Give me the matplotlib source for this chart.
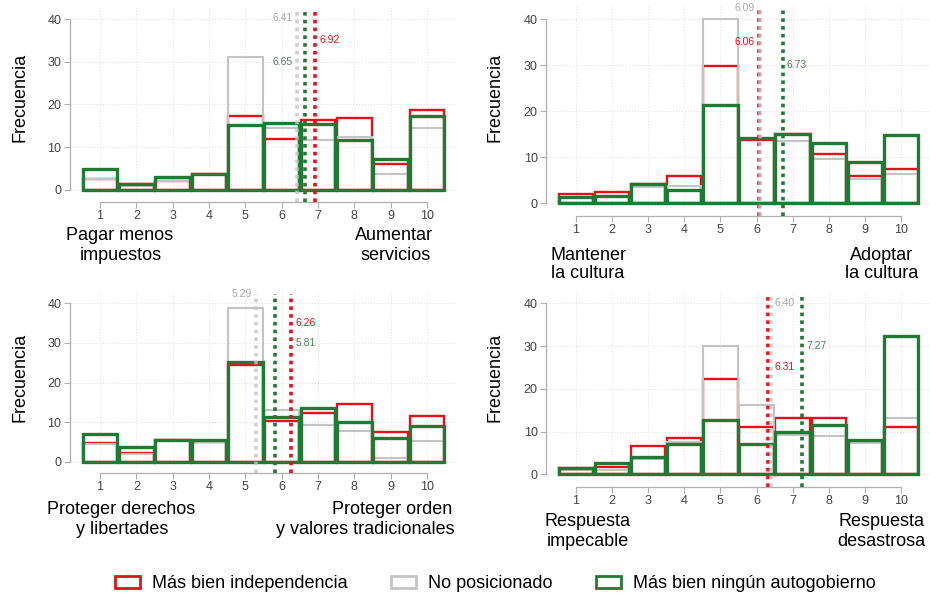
import matplotlib.pyplot as plt
import numpy as np
from matplotlib.patches import Patch

plt.rcParams['font.family'] = ['Liberation Sans', 'DejaVu Sans']

# escala 1-10
puntos = np.arange(1, 11)

# Pagar menos impuestos / Aumentar servicios
indep_imp = [2.5, 1.5, 2.0, 3.7, 17.2, 12.0, 16.3, 16.8, 6.0, 18.8]
nopos_imp = [2.5, 1.0, 2.0, 3.7, 31.2, 14.5, 11.6, 12.3, 3.8, 14.5]
ningun_imp = [5.0, 1.5, 3.1, 3.7, 15.2, 15.7, 15.5, 11.8, 7.3, 17.4]
medias_imp = [6.92, 6.41, 6.65]

# Mantener / Adoptar la cultura
indep_cul = [2.0, 2.4, 4.1, 5.9, 29.7, 13.8, 14.9, 10.7, 5.9, 7.4]
nopos_cul = [1.0, 1.5, 3.5, 3.8, 40.0, 14.0, 13.5, 9.6, 5.3, 6.2]
ningun_cul = [1.4, 1.6, 4.1, 2.8, 21.3, 14.2, 14.9, 13.1, 8.9, 14.8]
medias_cul = [6.06, 6.09, 6.73]

# Proteger derechos / orden
indep_der = [4.6, 2.1, 5.4, 4.9, 24.3, 10.2, 12.3, 14.5, 7.4, 11.5]
nopos_der = [4.5, 2.0, 5.4, 5.0, 38.7, 13.0, 9.3, 7.8, 1.0, 5.2]
ningun_der = [7.0, 3.8, 5.4, 5.6, 25.3, 11.3, 13.6, 9.9, 5.9, 8.9]
medias_der = [6.26, 5.29, 5.81]

# Respuesta impecable / desastrosa
indep_res = [1.4, 1.6, 6.7, 8.5, 22.3, 11.1, 13.2, 13.2, 7.5, 11.1]
nopos_res = [1.0, 1.0, 3.5, 7.5, 29.9, 16.1, 9.2, 9.0, 7.4, 13.2]
ningun_res = [1.4, 2.6, 4.0, 7.2, 12.7, 7.0, 10.0, 11.5, 8.0, 32.4]
medias_res = [6.31, 6.40, 7.27]

etiquetas_izq = [["Pagar menos", "impuestos"], ["Mantener", "la cultura"],
                 ["Proteger derechos", "y libertades"], ["Respuesta", "impecable"]]
etiquetas_der = [["Aumentar", "servicios"], ["Adoptar", "la cultura"],
                 ["Proteger orden", "y valores tradicionales"], ["Respuesta", "desastrosa"]]

grupos = ["Más bien independencia", "No posicionado", "Más bien ningún autogobierno"]
colores = ["#e3111b", "#c4c4c4", "#1f7a33"]
col_texto = ["#e3111b", "#a8a8a8", "#4f7f57"]
grosor = [1.7, 1.5, 2.4]

datos = [
    (indep_imp, nopos_imp, ningun_imp, medias_imp),
    (indep_cul, nopos_cul, ningun_cul, medias_cul),
    (indep_der, nopos_der, ningun_der, medias_der),
    (indep_res, nopos_res, ningun_res, medias_res),
]

W, H = 930, 597
# x1 px, px por unidad x, y0 px, px por unidad y, nivel eje x
layout = [
    (100, 36.33, 190.0, 4.275, -2.7),
    (576, 36.10, 203.0, 4.60, -2.8),
    (100, 36.33, 461.7, 3.96, -2.8),
    (576, 36.10, 474.3, 4.275, -2.9),
]
# etiquetas de medias: (grupo, y, lado, grupo de referencia)
etiq_medias = [
    [(1, 40.3, 'l', 1), (2, 30, 'l', 1), (0, 35, 'r', 0)],
    [(1, 42.4, 'l', 0), (0, 35, 'l', 0), (2, 30, 'r', 2)],
    [(1, 42.4, 'l', 1), (0, 35, 'r', 0), (2, 30, 'r', 0)],
    [(1, 40, 'r', 1), (0, 25, 'r', 1), (2, 30, 'r', 2)],
]
# posiciones en px de las etiquetas inferiores
pos_izq = [[(120, 235), (121, 255)], [(588, 255), (588, 273)],
           [(121, 510), (122, 530)], [(588, 522), (588, 541)]]
pos_der = [[(394, 235), (396, 255)], [(882, 255), (882, 273)],
           [(392, 510), (365, 530)], [(881, 522), (881, 541)]]
pos_frec = [(20, 97), (495, 97), (20, 377), (495, 377)]

xlim = (-0.4, 11.2)
ylim = (-6, 44)

fig = plt.figure(figsize=(W / 100, H / 100), dpi=100)

for i, (series_p, lay) in enumerate(zip(datos, layout)):
    x1, ux, y0, uy, ejex = lay
    left = x1 + (xlim[0] - 1) * ux
    right = x1 + (xlim[1] - 1) * ux
    top = y0 - ylim[1] * uy
    bot = y0 - ylim[0] * uy
    ax = fig.add_axes([left / W, 1 - bot / H, (right - left) / W, (bot - top) / H])
    ax.set_xlim(*xlim)
    ax.set_ylim(*ylim)
    ax.patch.set_visible(False)

    # rejilla punteada
    ax.hlines([0, 10, 20, 30, 40], 0.17, 10.77, colors="#e0e0e0", linestyles=":", lw=0.8, zorder=0)
    ax.vlines(puntos, -1.6, 43, colors="#e6e6e6", linestyles=":", lw=0.8, zorder=0)

    valores = series_p[:3]
    medias = series_p[3]
    # gris primero, luego rojo, verde encima
    for g in [1, 0, 2]:
        ax.bar(puntos, valores[g], width=0.95, fill=False, edgecolor=colores[g],
               linewidth=grosor[g], zorder=2 + g)

    for g, alfa in [(0, 1.0), (1, 0.8), (2, 1.0)]:
        ax.plot([medias[g], medias[g]], [ejex, 42.3], color=colores[g], lw=2.6,
                linestyle=(0, (1, 1.15)), alpha=alfa, zorder=6)

    for g, yy, lado, ref in etiq_medias[i]:
        off = 4 / ux
        if lado == 'l':
            ax.text(medias[ref] - off, yy, f"{medias[g]:.2f}", ha='right', va='center',
                    fontsize=7.5, color=col_texto[g], zorder=7)
        else:
            ax.text(medias[ref] + off, yy, f"{medias[g]:.2f}", ha='left', va='center',
                    fontsize=7.5, color=col_texto[g], zorder=7)

    for s in ['top', 'right']:
        ax.spines[s].set_visible(False)
    ax.spines['left'].set_position(('data', 0.17))
    ax.spines['left'].set_bounds(0, 40)
    ax.spines['bottom'].set_position(('data', ejex))
    ax.spines['bottom'].set_bounds(1, 10)
    for s in ['left', 'bottom']:
        ax.spines[s].set_color("#b0b0b0")
        ax.spines[s].set_linewidth(0.9)
    ax.set_yticks([0, 10, 20, 30, 40])
    ax.set_xticks(puntos)
    ax.tick_params(color="#b0b0b0", labelcolor="#444444", labelsize=9, length=4, width=0.8, pad=2)

    fx, fy = pos_frec[i]
    fig.text(fx / W, 1 - fy / H, "Frecuencia", rotation=90, ha='center', va='center', fontsize=13)
    for linea, (px, py) in zip(etiquetas_izq[i], pos_izq[i]):
        fig.text(px / W, 1 - py / H, linea, ha='center', va='center', fontsize=13)
    for linea, (px, py) in zip(etiquetas_der[i], pos_der[i]):
        fig.text(px / W, 1 - py / H, linea, ha='center', va='center', fontsize=13)

handles = [Patch(facecolor='white', edgecolor=c, linewidth=2) for c in colores]
fig.legend(handles, grupos, loc='center', bbox_to_anchor=(495 / W, 1 - 584 / H), ncol=3,
           frameon=False, fontsize=13, handlelength=1.4, handleheight=0.65,
           handletextpad=0.65, columnspacing=2.4)

fig.savefig("out.png", dpi=100)
